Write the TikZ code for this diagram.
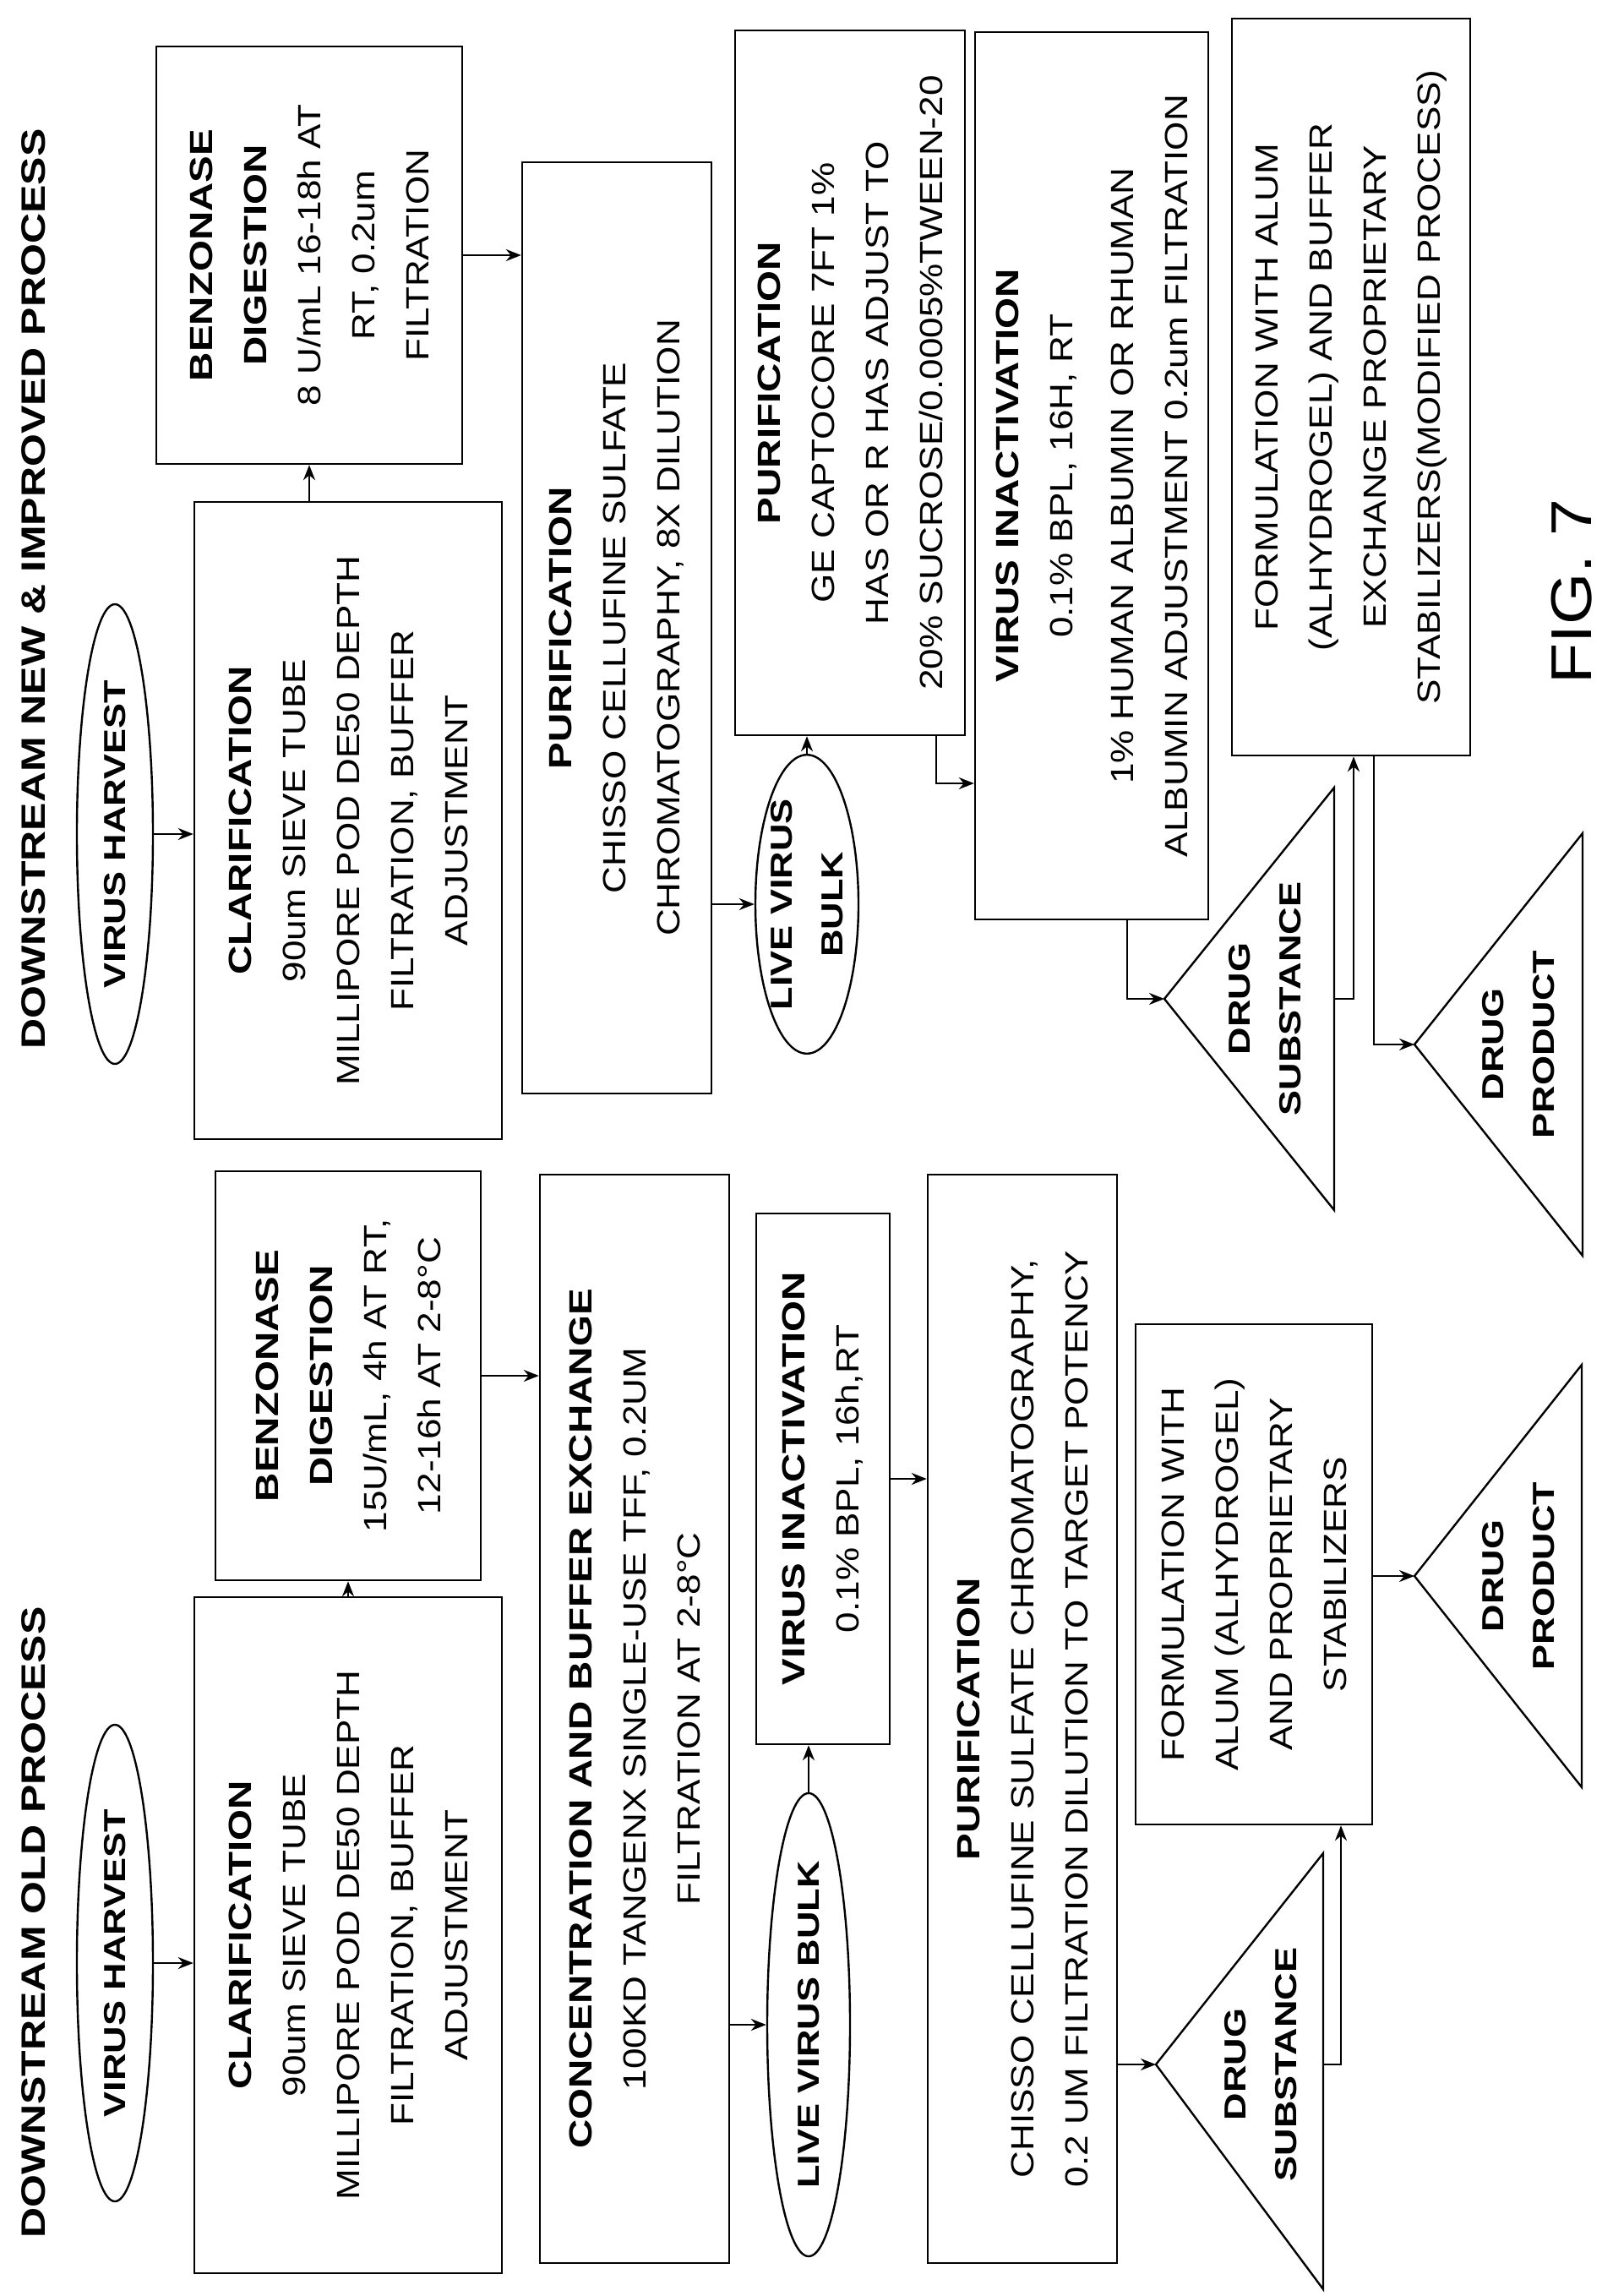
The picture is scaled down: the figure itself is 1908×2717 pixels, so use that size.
\documentclass[tikz,border=0pt]{standalone}
\usepackage{fontspec}
\setmainfont{Liberation Sans}[FakeStretch=1.16,BoldFeatures={FakeStretch=1.25}]
\usetikzlibrary{shapes.geometric,arrows.meta,calc}
\begin{document}
\begin{tikzpicture}[x=0.5pt,y=-0.5pt,
  every node/.style={inner sep=0pt,align=center,rotate=90,font=\fontsize{19}{32}\selectfont},
  box/.style={draw,line width=1.2pt,rectangle},
  oval/.style={draw,line width=1.2pt,ellipse},
  tri/.style={draw,line width=1.2pt,line join=miter},
  lbl/.style={font=\fontsize{18}{30}\selectfont\bfseries},
  ttl/.style={font=\fontsize{20}{30}\selectfont\bfseries},
  arr/.style={line width=1.2pt,-{Stealth[length=9pt,width=7pt]}}]
\fill[white] (0,0) rectangle (1908,2717);
\useasboundingbox (0,0) rectangle (1908,2717);
% ---------- OLD PROCESS ----------
\node[ttl] (T1) at (40,2275) {DOWNSTREAM OLD PROCESS};
\node[oval,lbl,minimum width=282pt,minimum height=45pt] (VH1) at (136,2323) {VIRUS HARVEST};
\node[box,minimum width=400pt,minimum height=182pt] (C1) at (412,2290)
 {\textbf{CLARIFICATION}\\90um SIEVE TUBE\\MILLIPORE POD DE50 DEPTH\\FILTRATION, BUFFER\\ADJUSTMENT};
\node[box,minimum width=242pt,minimum height=157pt] (B1) at (412,1628)
 {\textbf{BENZONASE}\\\textbf{DIGESTION}\\15U/mL, 4h AT RT,\\12-16h AT 2-8°C};
\node[box,minimum width=644pt,minimum height=112pt] (Conc) at (751,2034)
 {\textbf{CONCENTRATION AND BUFFER EXCHANGE}\\100KD TANGENX SINGLE-USE TFF, 0.2UM\\FILTRATION AT 2-8°C};
\node[oval,lbl,minimum width=260pt,minimum height=49pt] (LVB1) at (957,2396) {LIVE VIRUS BULK};
\node[box,minimum width=314pt,minimum height=79pt] (VI1) at (974,1750)
 {\textbf{VIRUS INACTIVATION}\\0.1\% BPL, 16h,RT};
\node[box,minimum width=644pt,minimum height=112pt] (P1) at (1210,2034)
 {\textbf{PURIFICATION}\\CHISSO CELLUFINE SULFATE CHROMATOGRAPHY,\\0.2 UM FILTRATION DILUTION TO TARGET POTENCY};
\node[box,minimum width=296pt,minimum height=140pt] (F1) at (1484,1863)
 {FORMULATION WITH\\ALUM (ALHYDROGEL)\\AND PROPRIETARY\\STABILIZERS};
\coordinate (ds1a) at (1368,2443);
\coordinate (ds1m) at (1566,2443);
\draw[tri] (ds1a) -- (1566,2193) -- (1566,2709) -- cycle;
\node[lbl] (DS1) at (1492,2443) {DRUG\\SUBSTANCE};
\coordinate (dp1a) at (1674,1865);
\draw[tri] (dp1a) -- (1872,1615) -- (1872,2115) -- cycle;
\node[lbl] (DP1) at (1797,1865) {DRUG\\PRODUCT};
\coordinate (j5) at (1587,2443);
% ---------- NEW PROCESS ----------
\node[ttl] (T2) at (40,697) {DOWNSTREAM NEW \& IMPROVED PROCESS};
\node[oval,lbl,minimum width=272pt,minimum height=45pt] (VH2) at (136,987) {VIRUS HARVEST};
\node[box,minimum width=377pt,minimum height=182pt] (C2) at (412,971)
 {\textbf{CLARIFICATION}\\90um SIEVE TUBE\\MILLIPORE POD DE50 DEPTH\\FILTRATION, BUFFER\\ADJUSTMENT};
\node[box,minimum width=247pt,minimum height=181pt] (B2) at (366,302)
 {\textbf{BENZONASE}\\\textbf{DIGESTION}\\8 U/mL 16-18h AT\\RT, 0.2um\\FILTRATION};
\node[box,minimum width=551pt,minimum height=112pt] (P2) at (730,743)
 {\textbf{PURIFICATION}\\CHISSO CELLUFINE SULFATE\\CHROMATOGRAPHY, 8X DILUTION};
\node[oval,lbl,minimum width=143pt,minimum height=61pt] (LVB2) at (955,1070) {LIVE VIRUS\\BULK};
\node[box,minimum width=417pt,minimum height=136pt] (P3) at (1006,453)
 {\textbf{PURIFICATION}\\GE CAPTOCORE 7FT 1\%\\HAS OR R HAS ADJUST TO\\20\% SUCROSE/0.0005\%TWEEN-20};
\node[box,minimum width=525pt,minimum height=138pt] (VI2) at (1292,563)
 {\textbf{VIRUS INACTIVATION}\\0.1\% BPL, 16H, RT\\[4pt]1\% HUMAN ALBUMIN OR RHUMAN\\ALBUMIN ADJUSTMENT 0.2um FILTRATION};
\node[box,minimum width=436pt,minimum height=141pt] (F2) at (1599,458)
 {FORMULATION WITH ALUM\\(ALHYDROGEL) AND BUFFER\\EXCHANGE PROPRIETARY\\STABILIZERS(MODIFIED PROCESS)};
\coordinate (ds2a) at (1378,1182);
\coordinate (ds2m) at (1579,1182);
\draw[tri] (ds2a) -- (1579,932) -- (1579,1432) -- cycle;
\node[lbl] (DS2) at (1497,1182) {DRUG\\SUBSTANCE};
\coordinate (dp2a) at (1674,1236);
\draw[tri] (dp2a) -- (1873,986) -- (1873,1486) -- cycle;
\node[lbl] (DP2) at (1797,1236) {DRUG\\PRODUCT};
\node[font=\fontsize{34}{40}\selectfont] (FIG) at (1860,700) {FIG. 7};
\coordinate (j1) at (1108,927);
\coordinate (j2) at (1334,1182);
\coordinate (j3) at (1602,1182);
\coordinate (j4) at (1626,1236);
% ---------- CONNECTORS ----------
\draw[arr] (VH1.south) -- (VH1.south -| C1.north);
\draw[arr] (C1.east) -- (C1.east |- B1.west);
\draw[arr] (B1.south) -- (B1.south -| Conc.north);
\draw[arr] (Conc.south |- LVB1.north) -- (LVB1.north);
\draw[arr] (LVB1.east) -- (LVB1.east |- VI1.west);
\draw[arr] (VI1.south) -- (VI1.south -| P1.north);
\draw[arr] (P1.south |- ds1a) -- (ds1a);
\draw[arr] (ds1m) -- (j5) -- (j5 |- F1.west);
\draw[arr] (F1.south |- dp1a) -- (dp1a);
\draw[arr] (VH2.south) -- (VH2.south -| C2.north);
\draw[arr] (B2.center |- C2.east) -- (B2.west);
\draw[arr] (B2.south) -- (B2.south -| P2.north);
\draw[arr] (P2.south |- LVB2.north) -- (LVB2.north);
\draw[arr] (LVB2.east) -- (LVB2.east |- P3.west);
\draw[arr] (P3.west -| j1) -- (j1) -- (j1 -| VI2.north);
\draw[arr] (VI2.west -| j2) -- (j2) -- (ds2a);
\draw[arr] (ds2m) -- (j3) -- (j3 |- F2.west);
\draw[arr] (F2.west -| j4) -- (j4) -- (dp2a);
\end{tikzpicture}
\end{document}
